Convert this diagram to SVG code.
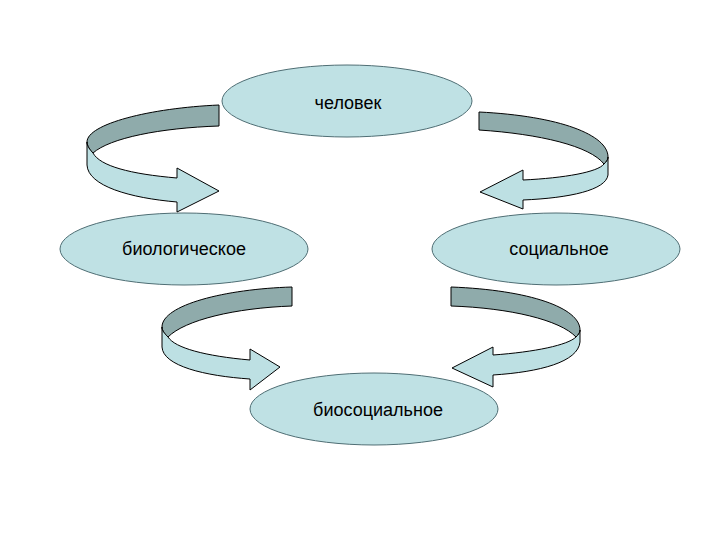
<svg xmlns="http://www.w3.org/2000/svg" width="720" height="540" viewBox="0 0 720 540">
<style>
.node{fill:#bfe1e4;stroke:#4f6e74;stroke-width:1}
.lbl{font-family:"Liberation Sans",Arial,sans-serif;font-size:18px;fill:#000;text-anchor:middle}
.back{fill:#8fabab;stroke:#000;stroke-width:1;stroke-linejoin:round}
.front{fill:#bde0e3;stroke:#000;stroke-width:1;stroke-linejoin:round}
</style>
<rect width="720" height="540" fill="#fff"/>
<g id="n-chelovek"><ellipse class="node" cx="347" cy="101" rx="125" ry="36"/><text class="lbl" x="348" y="109">человек</text></g>
<g id="n-biolog"><ellipse class="node" cx="184" cy="249" rx="124" ry="36"/><text class="lbl" x="184" y="255">биологическое</text></g>
<g id="n-social"><ellipse class="node" cx="556" cy="249" rx="124" ry="36"/><text class="lbl" x="559" y="255">социальное</text></g>
<g id="n-biosoc"><ellipse class="node" cx="374" cy="409" rx="124" ry="36"/><text class="lbl" x="378" y="416">биосоциальное</text></g>
<g id="connectors">
<g id="a1">
<path class="back" d="M219,105 C150,108 87,124 87,142 C87,146 90,150 93,153 C110,138 160,128 219,126 Z"/>
<path class="front" d="M87,142 L87,165 C88,186 130,198 177,202 L177,212 L219,191 L177,168 L177,178 C130,174 100,166 93,153 C90,150 87,146 87,142 Z"/>
</g>
<g id="a2">
<path class="back" d="M479,112 C560,116 608,135 608,157 C608,160 606,162 604,164 C590,146 540,134 479,130 Z"/>
<path class="front" d="M608,157 L608,175 C606,190 570,198 523,200 L523,209 L480,192 L523,170 L523,180 C565,178 598,172 604,164 C606,162 608,160 608,157 Z"/>
</g>
<g id="a3">
<path class="back" d="M292,287 C225,289 162,305 162,327 C162,331 165,334 168,337 C185,320 235,308 292,306 Z"/>
<path class="front" d="M162,327 L162,347 C163,366 205,376 250,379 L250,390 L280,367 L250,349 L250,360 C205,356 175,348 168,337 C165,334 162,331 162,327 Z"/>
</g>
<g id="a4">
<path class="back" d="M451,287 C530,290 580,308 580,330 C580,333 578,335 576,337 C560,320 510,308 451,306 Z"/>
<path class="front" d="M580,330 L580,342 C578,362 540,372 493,375 L493,387 L452,368 L493,347 L493,355 C535,352 568,345 576,337 C578,335 580,333 580,330 Z"/>
</g>
</g>
</svg>
